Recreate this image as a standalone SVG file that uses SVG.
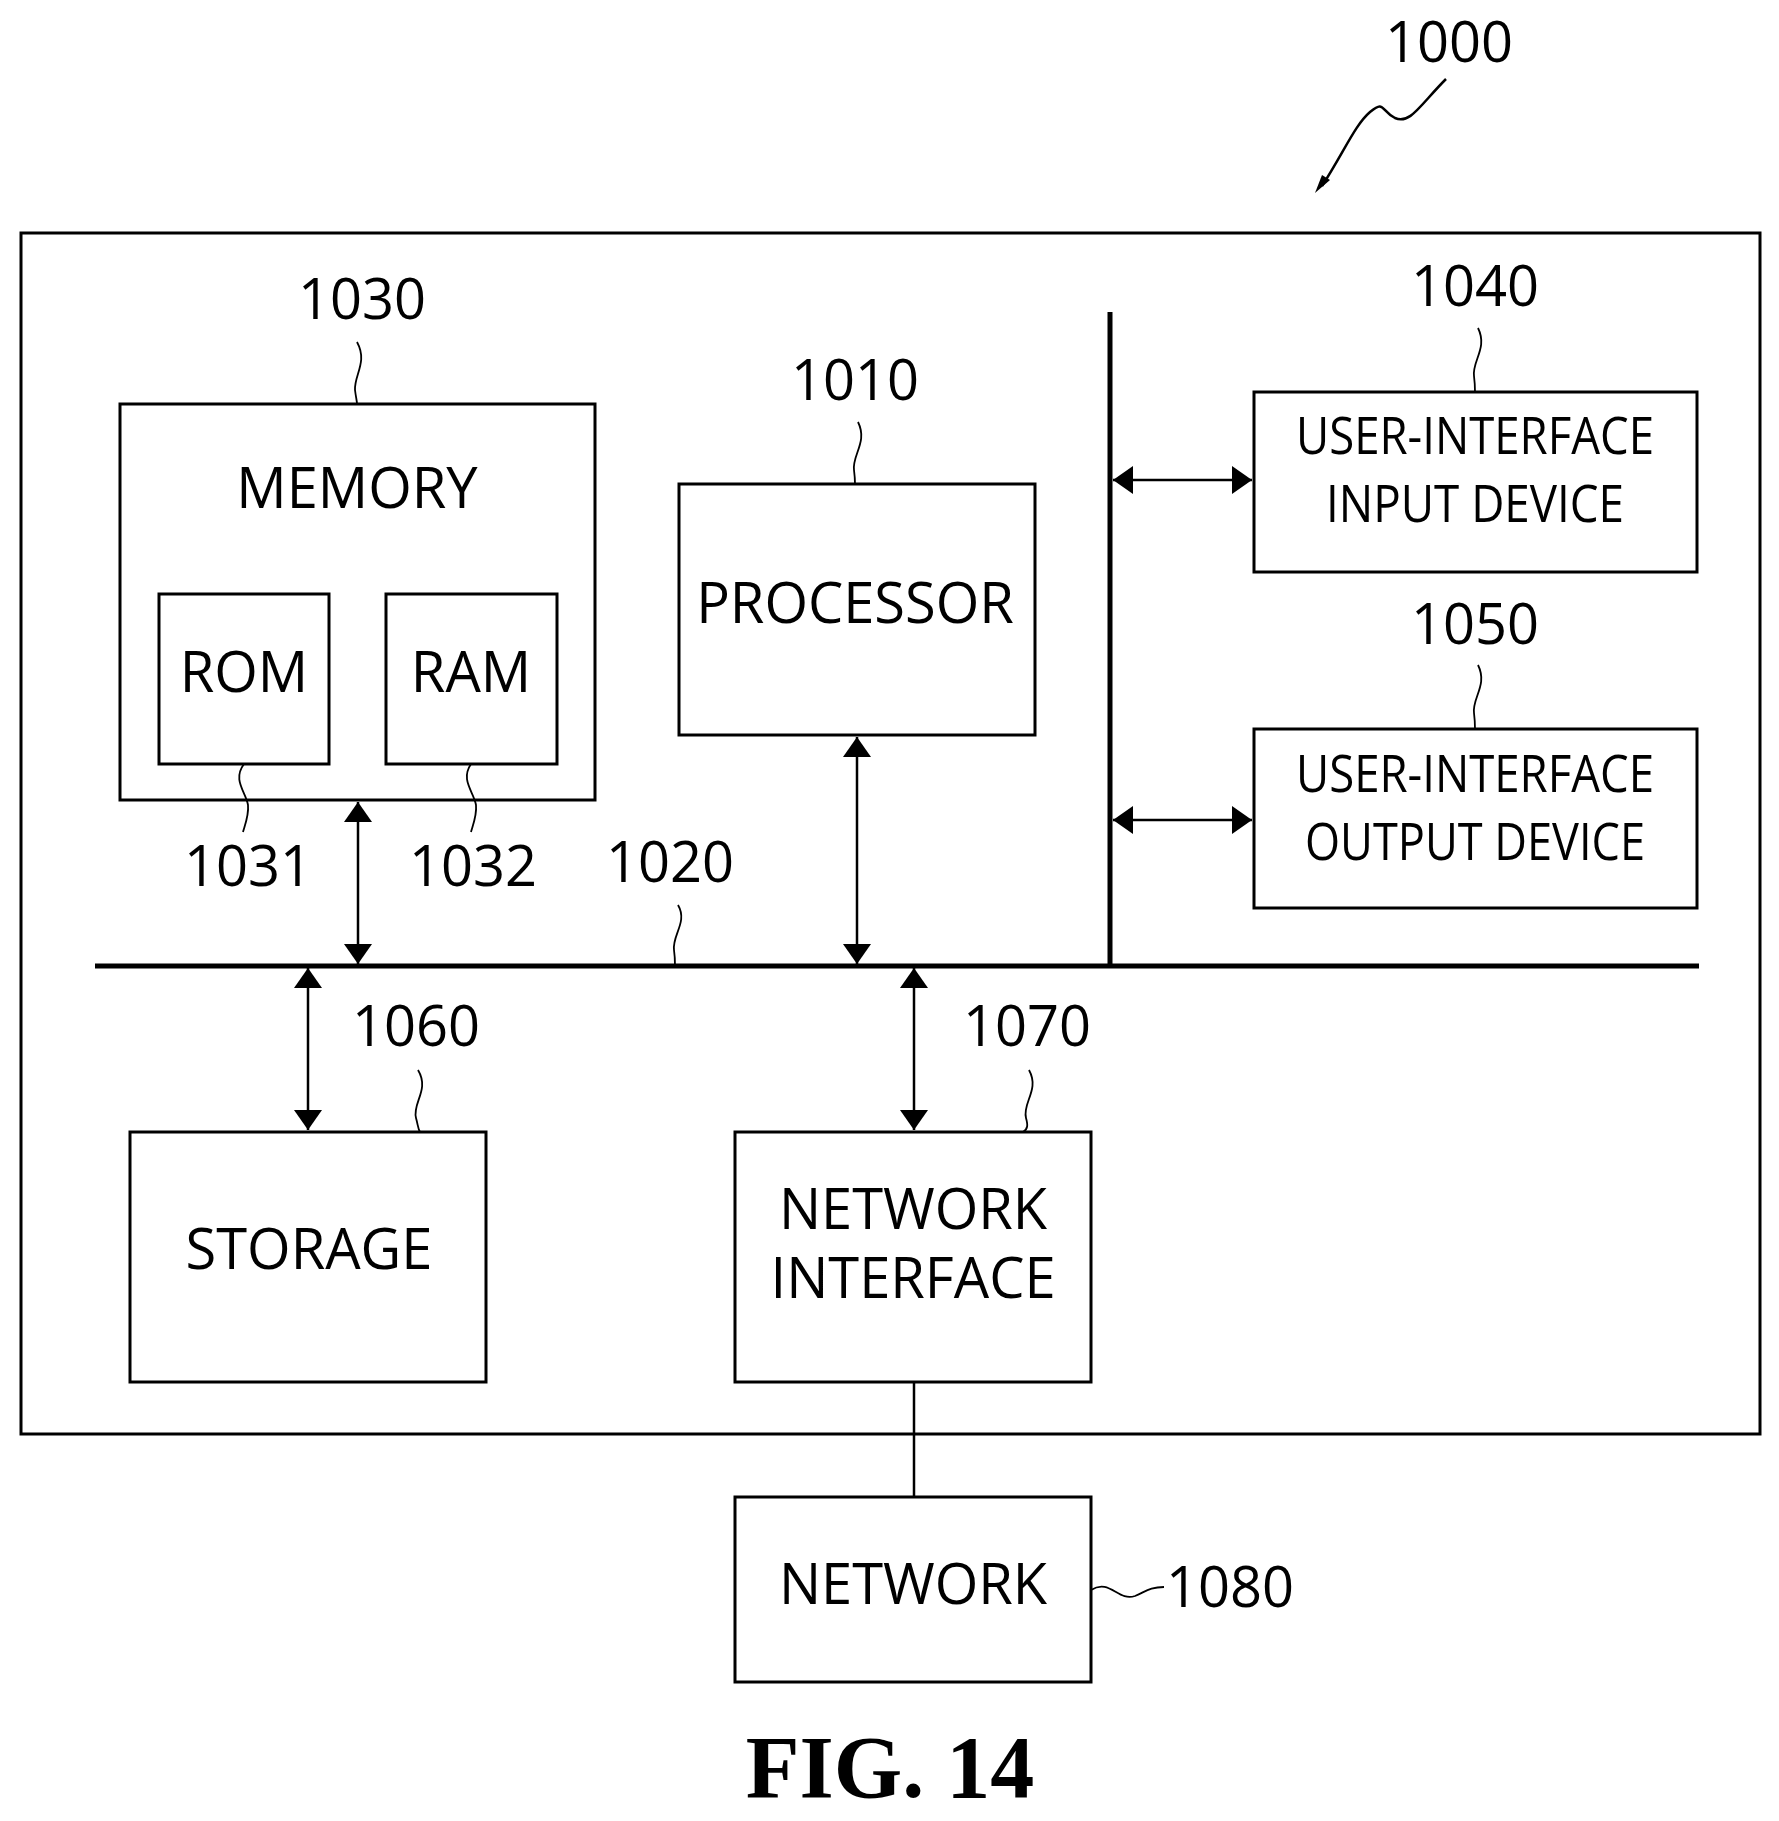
<svg xmlns="http://www.w3.org/2000/svg" width="1779" height="1821" viewBox="0 0 1779 1821">
<style>
.b{fill:none;stroke:#000;stroke-width:3}
.t{font-family:"Open Sans","DejaVu Sans",sans-serif;font-size:56px;text-anchor:middle;fill:#000}
.u{font-size:52px}
.l{fill:none;stroke:#000;stroke-width:1.8}
.c{stroke:#000;stroke-width:2.5;fill:none}
</style>
<defs>
<marker id="h" viewBox="0 0 10 10" refX="10" refY="5" markerWidth="20" markerHeight="28" markerUnits="userSpaceOnUse" orient="auto-start-reverse" preserveAspectRatio="none"><path d="M0,0 L10,5 L0,10 z"/></marker>
</defs>
<rect x="0" y="0" width="1779" height="1821" fill="#fff"/>
<rect id="frame" class="b" x="21" y="233" width="1739" height="1201"/>
<g id="memory"><rect class="b" x="120" y="404" width="475" height="396"/><text class="t" x="357" y="508">MEMORY</text></g>
<g id="rom"><rect class="b" x="159" y="594" width="170" height="170"/><text class="t" x="244" y="692">ROM</text></g>
<g id="ram"><rect class="b" x="386" y="594" width="171" height="170"/><text class="t" x="471" y="692">RAM</text></g>
<g id="processor"><rect class="b" x="679" y="484" width="356" height="251"/><text class="t" x="855" y="623">PROCESSOR</text></g>
<g id="uiin"><rect class="b" x="1254" y="392" width="443" height="180"/><text class="t u" x="1475" y="454" textLength="358" lengthAdjust="spacingAndGlyphs">USER-INTERFACE</text><text class="t u" x="1475" y="522" textLength="298" lengthAdjust="spacingAndGlyphs">INPUT DEVICE</text></g>
<g id="uiout"><rect class="b" x="1254" y="729" width="443" height="179"/><text class="t u" x="1475" y="792" textLength="358" lengthAdjust="spacingAndGlyphs">USER-INTERFACE</text><text class="t u" x="1475" y="860" textLength="340" lengthAdjust="spacingAndGlyphs">OUTPUT DEVICE</text></g>
<g id="storage"><rect class="b" x="130" y="1132" width="356" height="250"/><text class="t" x="309" y="1269">STORAGE</text></g>
<g id="netif"><rect class="b" x="735" y="1132" width="356" height="250"/><text class="t" x="913" y="1229">NETWORK</text><text class="t" x="913" y="1298">INTERFACE</text></g>
<g id="network"><rect class="b" x="735" y="1497" width="356" height="185"/><text class="t" x="913" y="1604">NETWORK</text></g>
<g id="connectors">
<line x1="95" y1="966" x2="1699" y2="966" stroke="#000" stroke-width="5"/>
<line x1="1110" y1="312" x2="1110" y2="966" stroke="#000" stroke-width="5"/>
<line class="c" x1="358" y1="802" x2="358" y2="964" marker-start="url(#h)" marker-end="url(#h)"/>
<line class="c" x1="857" y1="737" x2="857" y2="964" marker-start="url(#h)" marker-end="url(#h)"/>
<line class="c" x1="308" y1="968" x2="308" y2="1130" marker-start="url(#h)" marker-end="url(#h)"/>
<line class="c" x1="914" y1="968" x2="914" y2="1130" marker-start="url(#h)" marker-end="url(#h)"/>
<line class="c" x1="1113" y1="480" x2="1252" y2="480" marker-start="url(#h)" marker-end="url(#h)"/>
<line class="c" x1="1113" y1="820" x2="1252" y2="820" marker-start="url(#h)" marker-end="url(#h)"/>
<line class="c" x1="914" y1="1382" x2="914" y2="1497"/>
</g>
<g id="labels">
<text class="t" x="1449" y="62">1000</text>
<path d="M1446,79 C1420,105 1410,125 1395,118 C1380,110 1385,100 1370,112 C1355,125 1345,150 1322,186" fill="none" stroke="#000" stroke-width="2.5"/>
<path d="M1330,180 L1315,193 L1322,175 z"/>
<text class="t" x="362" y="319">1030</text>
<path class="l" d="M357,342 C368,362 354,375 355,390 C356,398 357,401 357,404"/>
<text class="t" x="855" y="400">1010</text>
<path class="l" d="M858,422 C868,442 852,455 854,470 C855,478 855,481 855,484"/>
<text class="t" x="1475" y="306">1040</text>
<path class="l" d="M1478,328 C1488,348 1472,361 1474,376 C1475,384 1475,388 1475,392"/>
<text class="t" x="1475" y="644">1050</text>
<path class="l" d="M1478,665 C1488,685 1472,698 1474,713 C1475,721 1475,725 1475,729"/>
<text class="t" x="248" y="886">1031</text>
<path class="l" d="M244,764 C232,780 246,792 248,805 C249,815 245,825 243,832"/>
<text class="t" x="473" y="886">1032</text>
<path class="l" d="M471,764 C460,780 474,792 476,805 C477,815 473,825 471,832"/>
<text class="t" x="670" y="882">1020</text>
<path class="l" d="M678,905 C688,922 672,935 674,950 C675,957 675,962 675,966"/>
<text class="t" x="416" y="1046">1060</text>
<path class="l" d="M418,1070 C430,1090 412,1103 416,1118 C418,1125 418,1129 420,1132"/>
<text class="t" x="1027" y="1046">1070</text>
<path class="l" d="M1029,1070 C1040,1090 1022,1103 1026,1118 C1028,1125 1028,1129 1023,1132"/>
<text class="t" x="1230" y="1607">1080</text>
<path class="l" d="M1091,1590 C1110,1578 1118,1602 1135,1596 C1145,1592 1150,1587 1164,1587"/>
<text x="890" y="1797" style="font-family:'Liberation Serif',serif;font-weight:bold;font-size:88px;text-anchor:middle">FIG. 14</text>
</g>
</svg>
